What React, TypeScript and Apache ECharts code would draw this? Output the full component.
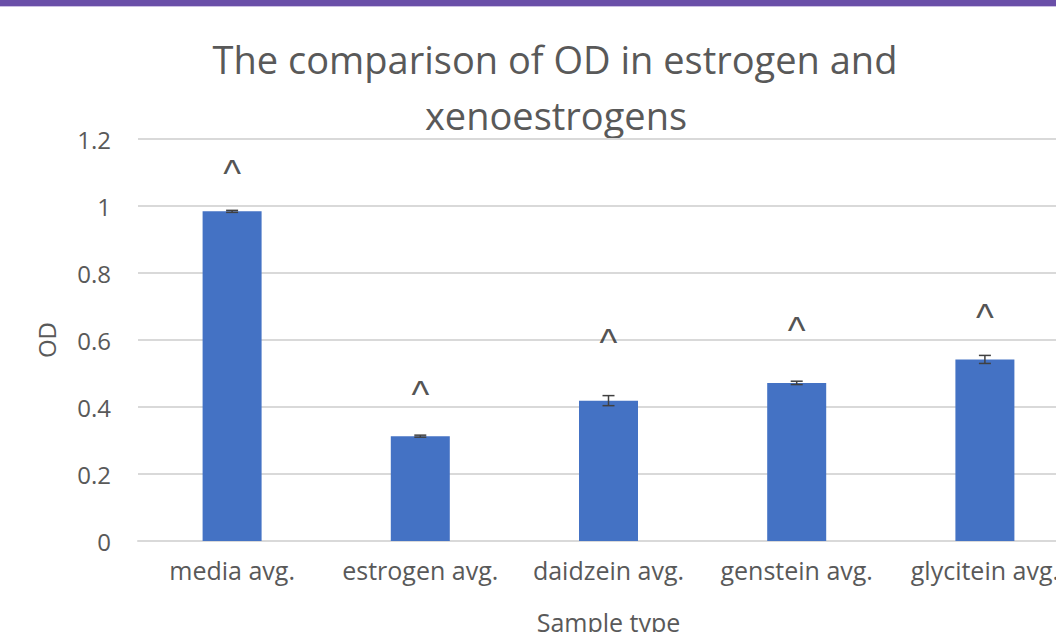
import React, { useEffect, useRef } from "react";
import * as echarts from "echarts";

const titleLines = ["The comparison of OD in estrogen and", "xenoestrogens"];
const categories = ["media avg.", "estrogen avg.", "daidzein avg.", "genstein avg.", "glycitein avg."];
const odValues = [0.984, 0.313, 0.419, 0.472, 0.542];
const odErrors = [0.003, 0.003, 0.015, 0.005, 0.012];
const markerValues = [1.12, 0.46, 0.615, 0.651, 0.69];
const markerText = "^";
const yMin = 0;
const yMax = 1.2;
const yStep = 0.2;
const xAxisTitle = "Sample type";
const yAxisTitle = "OD";

const FONT = "'Open Sans', 'Noto Sans', sans-serif";
const GREY = "#595959";

export default function App() {
  const ref = useRef<HTMLDivElement>(null);

  useEffect(() => {
    if (!ref.current) return;
    const chart = echarts.init(ref.current, undefined, { renderer: "svg" });

    const errorData = odValues.map((v, i) => [i, v - odErrors[i], v + odErrors[i]]);
    const markerData = markerValues.map((v, i) => [i, v]);

    chart.setOption({
      animation: false,
      backgroundColor: "#ffffff",
      graphic: [
        { type: "rect", shape: { x: 0, y: 0, width: 1056, height: 6 }, style: { fill: "#6a4fa8" } },
        { type: "rect", shape: { x: 0, y: 6, width: 1056, height: 1 }, style: { fill: "#cbbfe3" } },
        {
          type: "text",
          x: 555,
          y: 59,
          style: { text: titleLines[0], fontSize: 38, fontFamily: FONT, fill: GREY, align: "center", verticalAlign: "middle" },
        },
        {
          type: "text",
          x: 556,
          y: 115,
          style: { text: titleLines[1], fontSize: 38, fontFamily: FONT, fill: GREY, align: "center", verticalAlign: "middle" },
        },
      ],
      grid: { left: 138, top: 139, width: 941, height: 402, containLabel: false, outerBoundsMode: "none" },
      xAxis: {
        type: "category",
        data: categories,
        name: xAxisTitle,
        nameLocation: "middle",
        nameGap: 68,
        nameTextStyle: { fontSize: 25, fontFamily: FONT, color: GREY },
        axisLine: { show: true, lineStyle: { color: "#d9d9d9", width: 2 } },
        axisTick: { show: false },
        axisLabel: { fontSize: 25, fontFamily: FONT, color: GREY, margin: 16, interval: 0 },
      },
      yAxis: {
        type: "value",
        min: yMin,
        max: yMax,
        interval: yStep,
        name: yAxisTitle,
        nameLocation: "middle",
        nameGap: 80,
        nameRotate: 90,
        nameTextStyle: { fontSize: 24, fontFamily: FONT, color: GREY },
        axisLine: { show: false },
        axisTick: { show: false },
        axisLabel: { fontSize: 24, fontFamily: FONT, color: GREY, margin: 27 },
        splitLine: { show: true, lineStyle: { color: "#d9d9d9", width: 2 } },
      },
      series: [
        {
          type: "bar",
          data: odValues,
          barWidth: 59,
          itemStyle: { color: "#4472c4" },
          z: 2,
        },
        {
          type: "custom",
          data: errorData,
          z: 3,
          renderItem: (params: any, api: any) => {
            const idx = api.value(0);
            const lo = api.coord([idx, api.value(1)]);
            const hi = api.coord([idx, api.value(2)]);
            const half = 6;
            const style = { stroke: "#404040", lineWidth: 1.5 };
            return {
              type: "group",
              children: [
                { type: "line", shape: { x1: hi[0], y1: hi[1], x2: lo[0], y2: lo[1] }, style },
                { type: "line", shape: { x1: hi[0] - half, y1: hi[1], x2: hi[0] + half, y2: hi[1] }, style },
                { type: "line", shape: { x1: lo[0] - half, y1: lo[1], x2: lo[0] + half, y2: lo[1] }, style },
              ],
            };
          },
        },
        {
          type: "scatter",
          data: markerData,
          symbolSize: 0,
          z: 4,
          label: {
            show: true,
            position: "inside",
            formatter: () => markerText,
            fontSize: 38,
            fontFamily: "'Liberation Sans', Arial, sans-serif",
            color: "#262626",
            offset: [0, 8],
          },
        },
      ],
    });

    return () => chart.dispose();
  }, []);

  return (
    <div
      ref={ref}
      style={{ position: "fixed", left: 0, top: 0, width: 1056, height: 632 }}
    />
  );
}
